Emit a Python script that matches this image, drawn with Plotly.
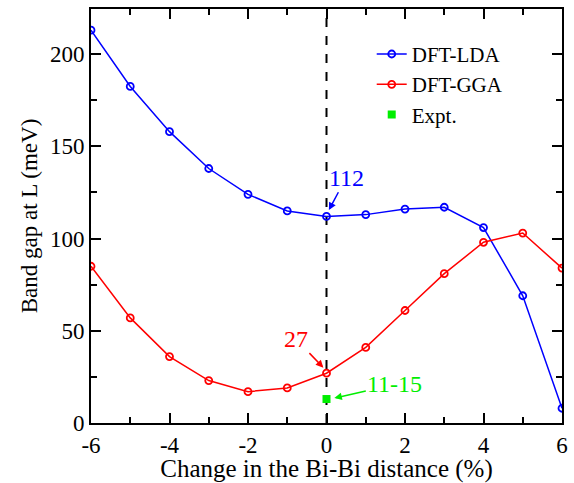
import plotly.graph_objects as go

x_vals = [-6, -5, -4, -3, -2, -1, 0, 1, 2, 3, 4, 5, 6]
lda_vals = [213, 182.5, 158, 138, 124, 115, 112, 113, 116, 117, 106, 69, 8]
gga_vals = [85, 57, 36, 23, 17, 19, 27, 41, 61, 81, 98, 103, 84]
expt_x = [0]
expt_y = [13]
x_tick_vals = [-6, -4, -2, 0, 2, 4, 6]
x_tick_text = ["-6", "-4", "-2", "0", "2", "4", "6"]
y_tick_vals = [0, 50, 100, 150, 200]
y_tick_text = ["0", "50", "100", "150", "200"]

FONT = "Liberation Serif, Times New Roman, serif"
TICK_SIZE = 23
XTITLE_SIZE = 25
YTITLE_SIZE = 23
LEG_SIZE = 21
ANN_SIZE = 24
AX_COL = "black"

fig = go.Figure()
fig.add_trace(go.Scatter(
    x=x_vals, y=lda_vals, mode="lines+markers", name="DFT-LDA",
    line=dict(color="#0000ff", width=1.5),
    marker=dict(symbol="circle-open", size=7, color="#0000ff", line=dict(width=1.8)),
))
fig.add_trace(go.Scatter(
    x=x_vals, y=gga_vals, mode="lines+markers", name="DFT-GGA",
    line=dict(color="#ff0000", width=1.5),
    marker=dict(symbol="circle-open", size=7, color="#ff0000", line=dict(width=1.8)),
))
fig.add_trace(go.Scatter(
    x=expt_x, y=expt_y, mode="markers", name="Expt.",
    marker=dict(symbol="square", size=8, color="#00ee00"),
))

fig.add_shape(type="line", x0=0, x1=0, y0=0, y1=1, xref="x", yref="paper",
              line=dict(color="black", width=2, dash="dash"), layer="below")

fig.add_annotation(x=0.06, y=115.5, ax=0.5, ay=133, axref="x", ayref="y",
                   text="112", font=dict(family=FONT, size=ANN_SIZE, color="#0000ff"),
                   showarrow=True, arrowhead=2, arrowsize=1, arrowwidth=1.5,
                   arrowcolor="#0000ff")
fig.add_annotation(x=-0.08, y=30, ax=-0.78, ay=45.5, axref="x", ayref="y",
                   text="27", font=dict(family=FONT, size=ANN_SIZE, color="#ff0000"),
                   showarrow=True, arrowhead=2, arrowsize=1, arrowwidth=1.5,
                   arrowcolor="#ff0000")
fig.add_annotation(x=0.2, y=13.5, ax=1.74, ay=21, axref="x", ayref="y",
                   text="11-15", font=dict(family=FONT, size=ANN_SIZE, color="#00ee00"),
                   showarrow=True, arrowhead=2, arrowsize=1, arrowwidth=1.5,
                   arrowcolor="#00ee00")

fig.update_layout(
    width=574, height=483,
    margin=dict(l=91, r=12, t=9, b=60, autoexpand=False),
    plot_bgcolor="white", paper_bgcolor="white",
    font=dict(family=FONT, size=TICK_SIZE, color="black"),
    xaxis=dict(
        range=[-6, 6], tickmode="array", tickvals=x_tick_vals, ticktext=x_tick_text,
        showline=True, linecolor=AX_COL, linewidth=2, mirror="allticks",
        ticks="inside", ticklen=10, tickwidth=2, tickcolor=AX_COL,
        showgrid=False, zeroline=False,
        tickfont=dict(family=FONT, size=TICK_SIZE, color="black"),
        minor=dict(ticks="inside", ticklen=6, tickwidth=2, tickcolor=AX_COL,
                   tickmode="linear", tick0=-6, dtick=1, showgrid=False),
        title=dict(text="Change in the Bi-Bi distance (%)",
                   font=dict(family=FONT, size=XTITLE_SIZE, color="black"), standoff=4),
    ),
    yaxis=dict(
        range=[0, 224.5], tickmode="array", tickvals=y_tick_vals, ticktext=y_tick_text,
        showline=True, linecolor=AX_COL, linewidth=2, mirror="allticks",
        ticks="inside", ticklen=10, tickwidth=2, tickcolor=AX_COL,
        showgrid=False, zeroline=False,
        tickfont=dict(family=FONT, size=TICK_SIZE, color="black"),
        minor=dict(ticks="inside", ticklen=6, tickwidth=2, tickcolor=AX_COL,
                   tickmode="linear", tick0=0, dtick=25, showgrid=False),
        title=dict(text="Band gap at L (meV)",
                   font=dict(family=FONT, size=YTITLE_SIZE, color="black"), standoff=6),
    ),
    legend=dict(x=0.596, y=0.94, xanchor="left", yanchor="top",
                bgcolor="rgba(0,0,0,0)", font=dict(family=FONT, size=LEG_SIZE),
                tracegroupgap=0, itemwidth=30),
    showlegend=True,
)

fig.write_html("out.html", config={"displayModeBar": False},
               post_script="document.body.style.margin='0';")
